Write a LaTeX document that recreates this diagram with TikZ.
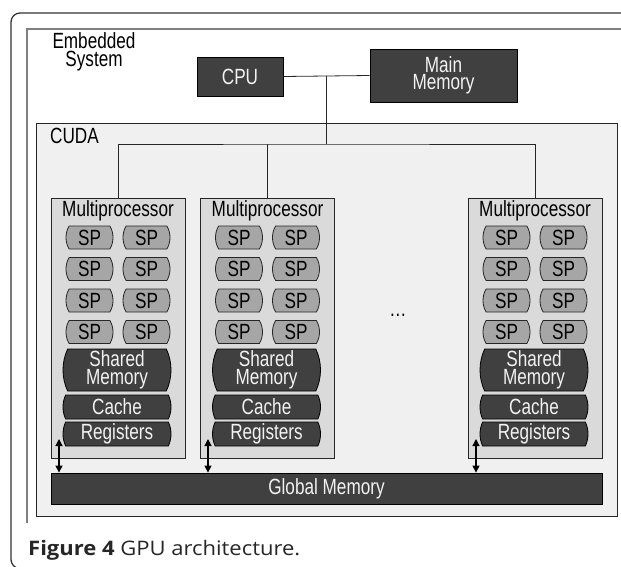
\documentclass[tikz,border=0pt]{standalone}
\usepackage{fontspec}
\setmainfont{Liberation Sans}[FakeStretch=0.78]
\newfontfamily\capfont{Open Sans}[FakeStretch=1.1]
\usetikzlibrary{shapes.misc,arrows.meta}
\definecolor{darkbox}{HTML}{404040}
\definecolor{spgray}{HTML}{A6A6A6}
\definecolor{mpgray}{HTML}{DADADA}
\definecolor{cudabg}{HTML}{F0F0F0}
\definecolor{framegray}{HTML}{808080}
\definecolor{lightext}{HTML}{F2F2F2}
\begin{document}
\begin{tikzpicture}[x=1pt,y=-1pt,
  lbl/.style={font=\fontsize{22}{17.5}\selectfont, inner sep=0pt, align=center},
  darkrect/.style={lbl, draw=black, fill=darkbox, text=lightext, line width=0.8pt},
  spbox/.style={lbl, rounded rectangle, rounded rectangle arc length=60,
    draw=black!85, fill=spgray, minimum width=47pt, minimum height=23pt, line width=0.8pt},
  membox/.style={darkrect, rounded rectangle, rounded rectangle arc length=50,
    minimum width=108pt},
  mpbox/.style={draw=black!85, fill=mpgray, line width=0.8pt, inner sep=0pt,
    minimum width=134pt, minimum height=260pt},
  wire/.style={draw=black!85, line width=0.8pt},
  link/.style={draw=black, line width=1.2pt,
    {Triangle[length=7pt,width=7pt]}-{Triangle[length=7pt,width=7pt]}}
]
\clip (0,0) rectangle (621,567);

% outer frame and the embedded-system frame
\draw[line width=1.3pt, black!80, rounded corners=9pt]
  (660,568.5) -- (11,568.5) -- (11,13) -- (660,13);
\draw[line width=1.5pt, framegray] (27,523) -- (27,29) -- (660,29);

\node[lbl] (emb) at (94,52) {Embedded\\System};

% host side
\node[darkrect, minimum width=86pt, minimum height=39pt] (cpu) at (240,76.5) {CPU};
\node[darkrect, minimum width=147pt, minimum height=53pt] (mainmem) at (443.5,75.5) {Main\\Memory};

% CUDA device
\node[draw=black!85, fill=cudabg, line width=0.8pt, inner sep=0pt,
  minimum width=581pt, minimum height=393pt] (cuda) at (326.5,319.5) {};
\node[lbl, anchor=west] (cudalbl) at (50,136) {CUDA};

\node[darkrect, minimum width=551pt, minimum height=31pt] (gm) at (326.5,488.5) {Global Memory};

\foreach \n/\cx/\ax in {1/118/59, 2/267.5/208, 3/535/476}{
  \node[mpbox] (mp\n) at (\cx,328) {};
  \node[lbl] (mpl\n) at (\cx,210.5) {Multiprocessor};
  \foreach \r/\ry in {1/237.5, 2/269, 3/300.5, 4/332}{
    \node[spbox] (sp\n-\r-a) at (\cx-28.5,\ry) {SP};
    \node[spbox] (sp\n-\r-b) at (\cx+28.5,\ry) {SP};
  }
  \node[membox, minimum height=42pt] (sh\n) at (\cx-1,370) {Shared\\Memory};
  \node[membox, minimum height=24pt] (ca\n) at (\cx-1,407) {Cache};
  \node[membox, minimum height=24pt] (rg\n) at (\cx-1,434) {Registers};
  \coordinate (io\n) at (\ax,439);
  \draw[link] (io\n) -- (io\n |- gm.north);
}

\node[lbl] (dots) at (398,315) {\dots};

% interconnect
\coordinate (j) at (326,76);
\coordinate (bus) at (326,144);
\draw[wire] (cpu.east) -- (mainmem.west);
\draw[wire] (j) -- (bus);
\draw[wire] (mp1.north) |- (bus) -| (mp3.north);
\draw[wire] (mp2.north) -- (mp2.north |- bus);

% caption
\node[anchor=base west, inner sep=0pt, text=black!85,
  font=\capfont\fontsize{20}{22}\selectfont] (cap) at (28,555)
  {\textbf{Figure 4} GPU architecture.};
\end{tikzpicture}
\end{document}
